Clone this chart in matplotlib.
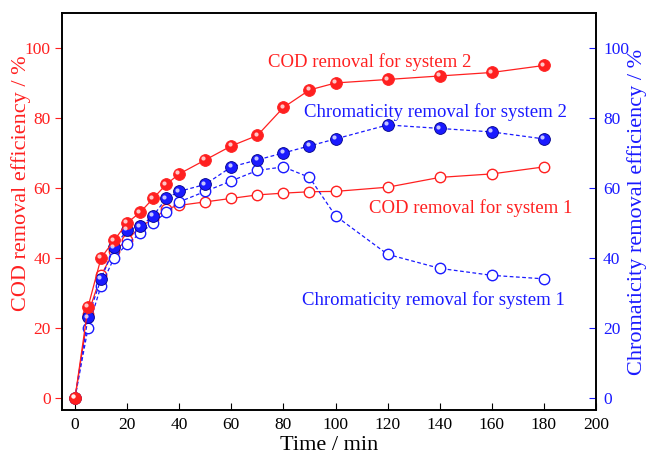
import matplotlib
matplotlib.use("Agg")
import matplotlib.pyplot as plt
from matplotlib.transforms import ScaledTranslation

plt.rcParams["font.family"] = ["Liberation Serif", "DejaVu Serif"]

# ---------------------------------------------------------------------------
# Data
# ---------------------------------------------------------------------------
time = [0, 5, 10, 15, 20, 25, 30, 35, 40, 50, 60, 70, 80, 90, 100, 120, 140, 160, 180]

cod_sys2 = [0, 26, 40, 45, 50, 53, 57, 61, 64, 68, 72, 75, 83, 88, 90, 91, 92, 93, 95]
cod_sys1 = [0, 24, 35, 42, 45, 49, 51, 54, 55, 56, 57, 58, 58.5, 58.9, 59, 60.2, 63, 64, 66]
chroma_sys2 = [0, 23, 34, 43, 48, 49, 52, 57, 59, 61, 66, 68, 70, 72, 74, 78, 77, 76, 74]
chroma_sys1 = [0, 20, 32, 40, 44, 47, 50, 53, 56, 59, 62, 65, 66, 63, 52, 41, 37, 35, 34]

RED = "#ff2020"
BLUE = "#1a1aff"

fig = plt.figure(figsize=(6.48, 4.55), dpi=100)
ax = fig.add_axes([0.0957, 0.0989, 0.8241, 0.8725])

hl = ax.transData + ScaledTranslation(-1.3 / 72, 1.3 / 72, fig.dpi_scale_trans)

# open-marker series first
ax.plot(time, cod_sys1, "-", color=RED, lw=0.9, marker="o", ms=7.5,
        mfc="white", mec=RED, mew=1.0, zorder=3)
ax.plot(time, chroma_sys1, "--", color=BLUE, lw=0.9, dashes=(3, 2), marker="o",
        ms=7.5, mfc="white", mec=BLUE, mew=1.0, zorder=3)

# filled "sphere" series
for y, c, ls in [(chroma_sys2, BLUE, "--"), (cod_sys2, RED, "-")]:
    kw = dict(dashes=(3, 2)) if ls == "--" else {}
    ax.plot(time, y, ls, color=c, lw=0.9, marker="o", ms=8.5, mfc=c,
            mec=c if c == RED else "#000088", mew=0.6, zorder=4, **kw)
    ax.plot(time, y, "o", ms=3.0, mfc="white", mec="none", alpha=0.75,
            transform=hl, zorder=5)

ax.set_xlim(-5, 200)
ax.set_ylim(-3.5, 110)
ax.set_xticks(range(0, 201, 20))
ax.set_yticks(range(0, 101, 20))

ax.tick_params(axis="x", direction="in", length=5, labelsize=12.5, pad=5)
ax.tick_params(axis="y", direction="out", length=5, labelsize=12.5,
               colors=RED, pad=3)
for s in ax.spines.values():
    s.set_linewidth(1.2)

ax.set_xlabel("Time / min", fontsize=16, labelpad=2)
ax.set_ylabel("COD removal efficiency / %", fontsize=16, color=RED)
ax.yaxis.set_label_coords(-0.058, 0.572)

ax2 = ax.twinx()
ax2.set_ylim(-3.5, 110)
ax2.set_yticks(range(0, 101, 20))
ax2.tick_params(axis="y", direction="in", length=5, labelsize=12.5,
                colors=BLUE, pad=5)
ax2.set_ylabel("Chromaticity removal efficiency / %", fontsize=16, color=BLUE)
ax2.yaxis.set_label_coords(1.058, 0.5)
for s in ax2.spines.values():
    s.set_linewidth(1.2)

ax.text(74, 96, "COD removal for system 2", color=RED, fontsize=13.5, va="center")
ax.text(88, 81.7, "Chromaticity removal for system 2", color=BLUE, fontsize=13.5,
        va="center")
ax.text(113, 54.3, "COD removal for system 1", color=RED, fontsize=13.5,
        va="center")
ax.text(87, 28, "Chromaticity removal for system 1", color=BLUE, fontsize=13.5,
        va="center")

fig.savefig("out.png", dpi=100)
